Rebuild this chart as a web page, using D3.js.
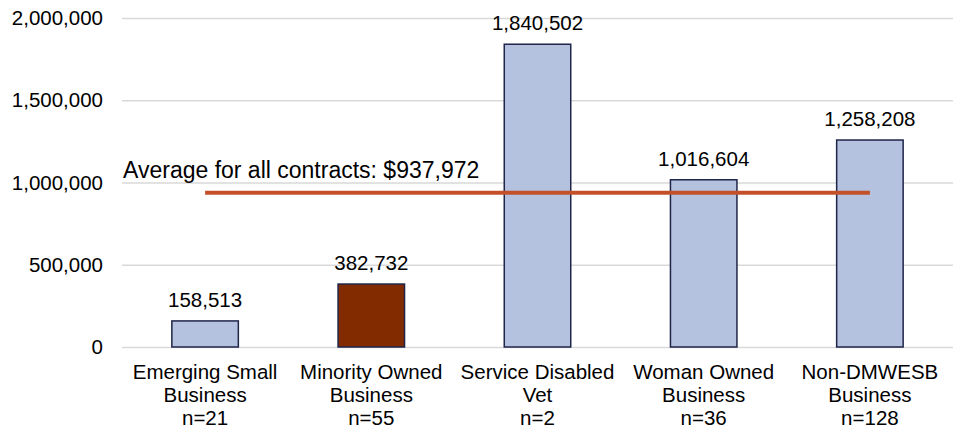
<!DOCTYPE html>
<html><head><meta charset="utf-8">
<script src="https://cdn.jsdelivr.net/npm/d3@7"></script>
<style>body{margin:0;background:#fff}svg{display:block}text{font-family:Arial,"Liberation Sans",sans-serif;fill:#000}</style>
</head><body><svg id="c" width="960" height="430"></svg>
<script>
const categories = [["Emerging Small","Business","n=21"],["Minority Owned","Business","n=55"],["Service Disabled","Vet","n=2"],["Woman Owned","Business","n=36"],["Non-DMWESB","Business","n=128"]];
const values = [158513, 382732, 1840502, 1016604, 1258208];
const highlight = [false, true, false, false, false];
const yTicks = [0, 500000, 1000000, 1500000, 2000000];
const average = 937972;
const averageLabel = "Average for all contracts: $937,972";

const svg = d3.select("#c");
const L = 122, R = 953, T = 18, B = 347;
const FS = 20.5;
const x = d3.scaleBand().domain(d3.range(values.length)).range([L, R]).paddingInner(0.6).paddingOuter(0.3);
const y = d3.scaleLinear().domain([0, 2000000]).range([B, T]);
const fmt = d3.format(",");

const yAxis = d3.axisLeft(y).tickValues(yTicks).tickFormat(fmt).tickSize(-(R - L)).tickPadding(19);
const ga = svg.append("g").attr("transform", `translate(${L},0)`).call(yAxis);
ga.select(".domain").remove();
ga.selectAll(".tick line").attr("stroke", "#d9d9d9").attr("stroke-width", 1.5);
ga.selectAll(".tick text").attr("font-size", FS).attr("font-family", "Arial, 'Liberation Sans', sans-serif").attr("fill", "#000");

svg.append("g").selectAll("rect").data(values).join("rect")
  .attr("x", (d, i) => x(i)).attr("width", x.bandwidth())
  .attr("y", d => y(d)).attr("height", d => B - y(d))
  .attr("fill", (d, i) => highlight[i] ? "#822B00" : "#B4C1DF")
  .attr("stroke", "#1F2548").attr("stroke-width", 1.5);

svg.append("g").selectAll("text").data(values).join("text")
  .attr("x", (d, i) => x(i) + x.bandwidth() / 2).attr("y", d => y(d) - 14)
  .attr("text-anchor", "middle").attr("font-size", FS).text(d => fmt(d));

const cx = i => x(i) + x.bandwidth() / 2;
svg.append("line").attr("x1", cx(0)).attr("x2", cx(values.length - 1))
  .attr("y1", y(average)).attr("y2", y(average))
  .attr("stroke", "#C4502A").attr("stroke-width", 4);
svg.append("text").attr("x", 123).attr("y", 178).attr("font-size", 23).text(averageLabel);

const gl = svg.append("g");
categories.forEach((lines, i) => {
  lines.forEach((t, j) => {
    gl.append("text").attr("x", cx(i)).attr("y", 379 + j * 23)
      .attr("text-anchor", "middle").attr("font-size", FS).text(t);
  });
});
</script></body></html>
